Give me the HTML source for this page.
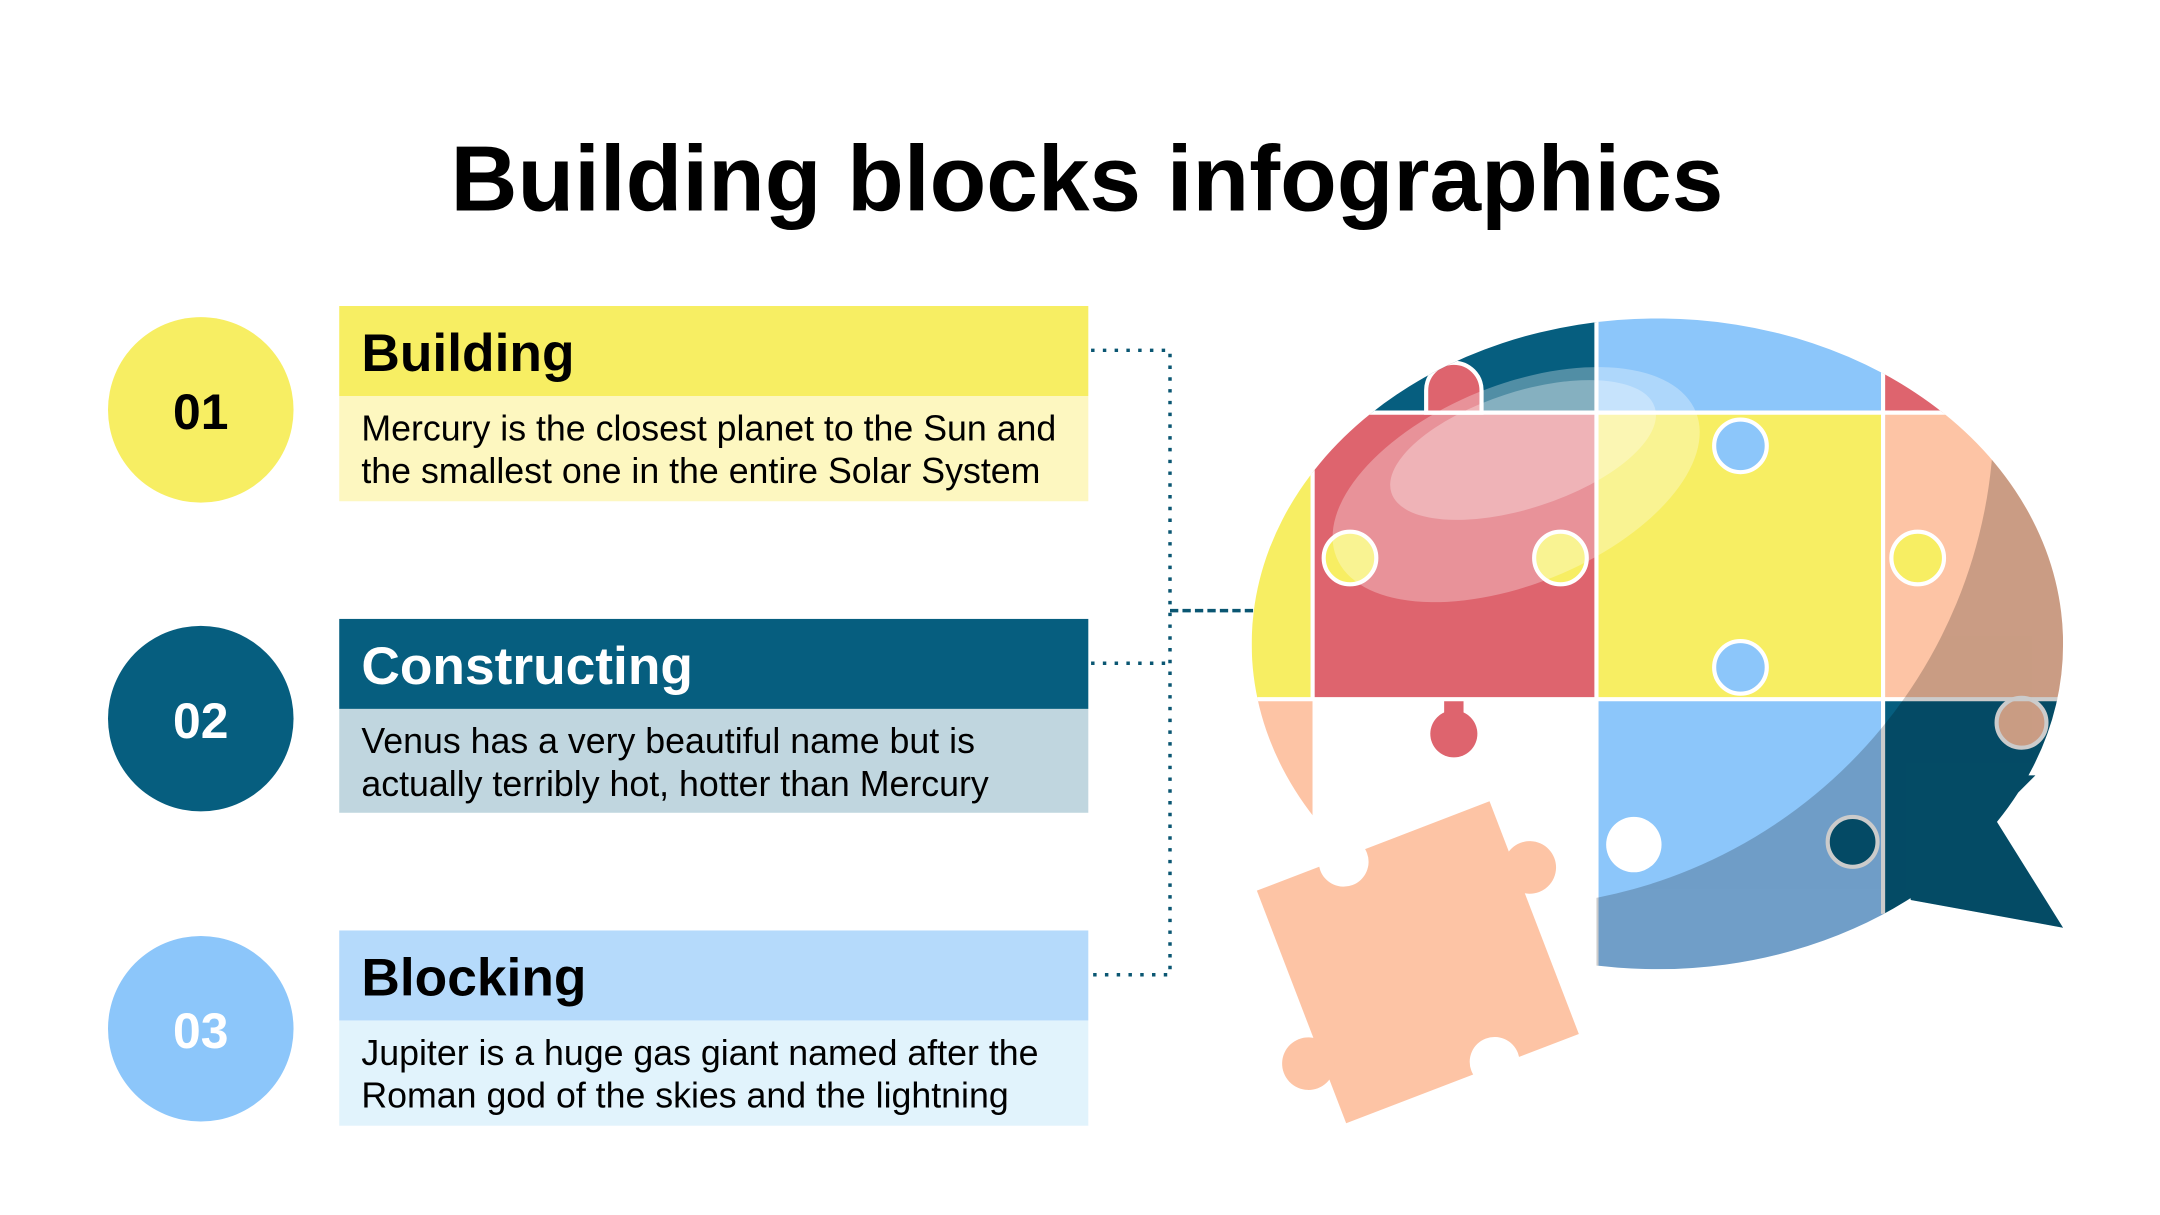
<!DOCTYPE html>
<html><head><meta charset="utf-8"><style>
html,body{margin:0;padding:0;background:#fff;}
svg{display:block;}
text{font-family:"Liberation Sans",Arial,sans-serif;}
</style></head><body>
<svg width="2160" height="1215" viewBox="0 0 1560 877.5" xmlns="http://www.w3.org/2000/svg">
<defs>
<clipPath id="bub"><ellipse cx="1197" cy="465" rx="293" ry="235"/><polygon points="1370,560 1470,560 1440,590 1490,670 1380,650"/></clipPath>
<mask id="shade"><rect x="1153" y="0" width="400" height="878" fill="white"/><circle cx="1085" cy="300" r="355" fill="black"/></mask>
</defs>
<text x="785" y="152" font-size="67" font-weight="bold" text-anchor="middle" fill="#000">Building blocks infographics</text>

<circle cx="145" cy="296" r="67" fill="#f7ee63"/>
<text x="145" y="310" font-size="36" font-weight="bold" text-anchor="middle" fill="#000">01</text>
<circle cx="145" cy="519" r="67" fill="#065e7f"/>
<text x="145" y="533" font-size="36" font-weight="bold" text-anchor="middle" fill="#fff">02</text>
<circle cx="145" cy="743" r="67" fill="#8cc6fa"/>
<text x="145" y="757" font-size="36" font-weight="bold" text-anchor="middle" fill="#fff">03</text>

<rect x="245" y="221" width="541" height="65" fill="#f7ee63"/>
<rect x="245" y="286" width="541" height="76" fill="#fdf7c0"/>
<text x="261" y="268" font-size="38.5" font-weight="bold" fill="#000">Building</text>
<text x="261" y="318" font-size="25.8" fill="#000">Mercury is the closest planet to the Sun and</text>
<text x="261" y="349" font-size="25.8" fill="#000">the smallest one in the entire Solar System</text>

<rect x="245" y="447" width="541" height="65" fill="#065e7f"/>
<rect x="245" y="512" width="541" height="75" fill="#c0d6df"/>
<text x="261" y="494" font-size="38.5" font-weight="bold" fill="#fff">Constructing</text>
<text x="261" y="544" font-size="25.8" fill="#000">Venus has a very beautiful name but is</text>
<text x="261" y="575" font-size="25.8" fill="#000">actually terribly hot, hotter than Mercury</text>

<rect x="245" y="672" width="541" height="65" fill="#b5dafb"/>
<rect x="245" y="737" width="541" height="76" fill="#e1f3fc"/>
<text x="261" y="719" font-size="38.5" font-weight="bold" fill="#000">Blocking</text>
<text x="261" y="769" font-size="25.8" fill="#000">Jupiter is a huge gas giant named after the</text>
<text x="261" y="800" font-size="25.8" fill="#000">Roman god of the skies and the lightning</text>

<g stroke="#0a5672" stroke-width="2.5" stroke-dasharray="2.5 6" fill="none">
<polyline points="788,253 845,253 845,704 788,704"/>
<line x1="788" y1="479" x2="845" y2="479"/>
</g>
<line x1="845" y1="441" x2="905" y2="441" stroke="#0a5672" stroke-width="2.5" stroke-dasharray="6 3"/>

<g clip-path="url(#bub)">
<rect x="880" y="220" width="70" height="285" fill="#f7ee63"/>
<rect x="948" y="220" width="205" height="78" fill="#065e7f"/>
<rect x="1153" y="220" width="207" height="78" fill="#8cc6fa"/>
<rect x="1360" y="220" width="140" height="78" fill="#de646e"/>
<rect x="948" y="298" width="205" height="207" fill="#de646e"/>
<rect x="1153" y="298" width="207" height="207" fill="#f7ee63"/>
<rect x="1360" y="298" width="140" height="207" fill="#fdc4a5"/>
<rect x="880" y="505" width="68" height="200" fill="#fdc4a5"/>
<rect x="1153" y="505" width="207" height="200" fill="#8cc6fa"/>
<rect x="1360" y="505" width="140" height="200" fill="#065e7f"/>
<g stroke="#fff" stroke-width="3">
<circle cx="1257" cy="322" r="19" fill="#8cc6fa"/>
<circle cx="1257" cy="482" r="19" fill="#8cc6fa"/>
<circle cx="1127" cy="403" r="19" fill="#f7ee63"/>
<circle cx="975" cy="403" r="19" fill="#f7ee63"/>
<circle cx="1385" cy="403" r="19" fill="#f7ee63"/>
<circle cx="1460" cy="522" r="18" fill="#fdc4a5"/>
<circle cx="1338" cy="608" r="18" fill="#065e7f"/>
</g>
<rect x="948" y="505" width="205" height="200" fill="#fff"/>
<circle cx="1050" cy="530" r="17" fill="#de646e"/>
<rect x="1043" y="505" width="14" height="15" fill="#de646e"/>
<circle cx="1180" cy="610" r="20" fill="#fff"/>
<g stroke="#fff" stroke-width="3" fill="none">
<line x1="948" y1="225" x2="948" y2="505"/>
<line x1="1153" y1="225" x2="1153" y2="700"/>
<line x1="1360" y1="225" x2="1360" y2="660"/>
<line x1="880" y1="298" x2="1500" y2="298"/>
<line x1="880" y1="505" x2="1500" y2="505"/>
</g>
<path d="M1030,298 L1030,282 A20,20 0 1 1 1070,282 L1070,298 Z" fill="#de646e" stroke="#fff" stroke-width="3"/>
<ellipse cx="1095" cy="350" rx="140" ry="72" transform="rotate(-22 1095 350)" fill="#fff" opacity="0.3"/>
<ellipse cx="1100" cy="325" rx="100" ry="42" transform="rotate(-18 1100 325)" fill="#fff" opacity="0.3"/>
<rect x="880" y="220" width="620" height="480" fill="#000" opacity="0.2" mask="url(#shade)"/>
</g>

<g transform="rotate(-21 1024 695)">
<rect x="934" y="605" width="180" height="180" fill="#fdc4a5"/>
<circle cx="1124" cy="660" r="19" fill="#fdc4a5"/>
<circle cx="924" cy="735" r="19" fill="#fdc4a5"/>
<circle cx="1000" cy="608" r="18" fill="#fff"/>
<circle cx="1050" cy="782" r="18" fill="#fff"/>
</g>
</svg>
</body></html>
